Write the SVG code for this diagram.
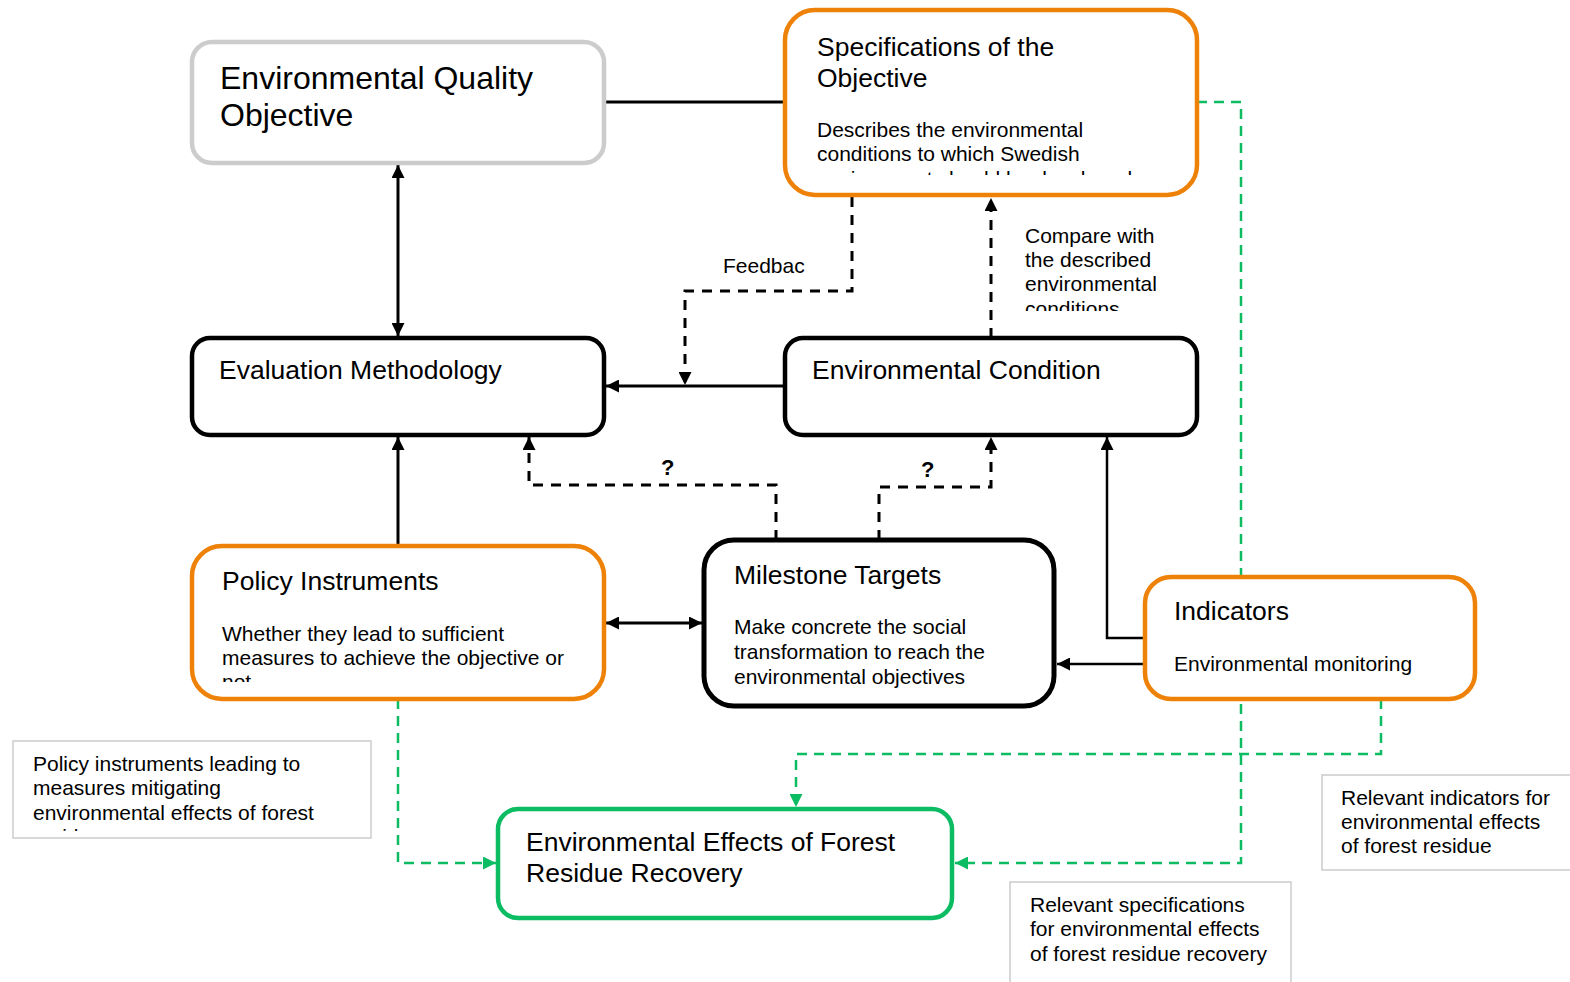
<svg xmlns="http://www.w3.org/2000/svg" width="1570" height="982" viewBox="0 0 1570 982">
<style>
text{font-family:"Liberation Sans",Arial,sans-serif;fill:#000}
.t32{font-size:32px}
.t26{font-size:26.5px}
.t21{font-size:21px}
.q{font-size:22px;font-weight:bold}
.box{fill:#fff;stroke-width:4.5}
.gray{stroke:#cccccc}
.org{stroke:#ee8208}
.blk{stroke:#000}
.grn{stroke:#0cbc63}
.note{fill:#fff;stroke:#cccccc;stroke-width:1.5}
.c{fill:none;stroke:#000;stroke-width:3}
.d{fill:none;stroke:#000;stroke-width:3;stroke-dasharray:10 8}
.g{fill:none;stroke:#0cbc63;stroke-width:2.5;stroke-dasharray:10 7}
</style>
<defs>
<marker id="ab" viewBox="0 0 12 12" refX="12" refY="6" markerWidth="13" markerHeight="13" markerUnits="userSpaceOnUse" orient="auto-start-reverse"><path d="M0,0 L12,6 L0,12 z" fill="#000"/></marker>
<marker id="ag" viewBox="0 0 12 12" refX="12" refY="6" markerWidth="13" markerHeight="13" markerUnits="userSpaceOnUse" orient="auto"><path d="M0,0 L12,6 L0,12 z" fill="#0cbc63"/></marker>
<clipPath id="cSpec"><rect x="790" y="15" width="400" height="160"/></clipPath>
<clipPath id="cPol"><rect x="197" y="551" width="400" height="131"/></clipPath>
<clipPath id="cCmp"><rect x="1015" y="215" width="170" height="96"/></clipPath>
<clipPath id="cN1"><rect x="15" y="743" width="354" height="88"/></clipPath>
</defs>

<g id="connectors">
<path class="c" d="M604,102 H785"/>
<path class="c" d="M398,165 V336" marker-start="url(#ab)" marker-end="url(#ab)"/>
<path class="d" d="M852,197 V291 H685 V385" marker-end="url(#ab)"/>
<path class="d" d="M991,338 V198" marker-end="url(#ab)"/>
<path class="c" d="M785,386 H606" marker-end="url(#ab)"/>
<path class="c" d="M398,546 V437" marker-end="url(#ab)"/>
<path class="c" d="M606,623 H702" marker-start="url(#ab)" marker-end="url(#ab)"/>
<path class="d" d="M776,540 V485 H529 V437" marker-end="url(#ab)"/>
<path class="d" d="M879,540 V487 H991 V437" marker-end="url(#ab)"/>
<path class="c" d="M1145,638 H1107 V437" marker-end="url(#ab)" style="stroke-width:2.5"/>
<path class="c" d="M1145,664 H1057" marker-end="url(#ab)" style="stroke-width:2.5"/>
<path class="g" d="M1197,102 H1241 V863 H955" marker-end="url(#ag)"/>
<path class="g" d="M1381,699 V754 H796 V807" marker-end="url(#ag)"/>
<path class="g" d="M398,699 V863 H496" marker-end="url(#ag)"/>
<text class="t21" x="723" y="273">Feedbac</text>
<g clip-path="url(#cCmp)">
<text class="t21" x="1025" y="243">Compare with</text>
<text class="t21" x="1025" y="267">the described</text>
<text class="t21" x="1025" y="291">environmental</text>
<text class="t21" x="1025" y="316">conditions</text>
</g>
<text class="q" x="661" y="475">?</text>
<text class="q" x="921" y="477">?</text>
</g>

<g id="eqo">
<rect class="box gray" x="192" y="42" width="412" height="121" rx="20"/>
<text class="t32" x="220" y="89">Environmental Quality</text>
<text class="t32" x="220" y="126">Objective</text>
</g>

<g id="specs">
<rect class="box org" x="785" y="10" width="412" height="185" rx="30"/>
<text class="t26" x="817" y="56">Specifications of the</text>
<text class="t26" x="817" y="87">Objective</text>
<g clip-path="url(#cSpec)">
<text class="t21" x="817" y="137">Describes the environmental</text>
<text class="t21" x="817" y="161">conditions to which Swedish</text>
<text class="t21" x="817" y="186">environment should be developed</text>
</g>
</g>

<g id="evaluation">
<rect class="box blk" x="192" y="338" width="412" height="97" rx="18"/>
<text class="t26" x="219" y="379">Evaluation Methodology</text>
</g>

<g id="condition">
<rect class="box blk" x="785" y="338" width="412" height="97" rx="18"/>
<text class="t26" x="812" y="379">Environmental Condition</text>
</g>

<g id="policy">
<rect class="box org" x="192" y="546" width="412" height="153" rx="30"/>
<text class="t26" x="222" y="590">Policy Instruments</text>
<g clip-path="url(#cPol)">
<text class="t21" x="222" y="641">Whether they lead to sufficient</text>
<text class="t21" x="222" y="665">measures to achieve the objective or</text>
<text class="t21" x="222" y="689">not</text>
</g>
</g>

<g id="milestone">
<rect class="box blk" x="704" y="540" width="350" height="166" rx="30" style="stroke-width:5"/>
<text class="t26" x="734" y="584">Milestone Targets</text>
<text class="t21" x="734" y="634">Make concrete the social</text>
<text class="t21" x="734" y="659">transformation to reach the</text>
<text class="t21" x="734" y="684">environmental objectives</text>
</g>

<g id="indicators">
<rect class="box org" x="1145" y="577" width="330" height="122" rx="26"/>
<text class="t26" x="1174" y="620">Indicators</text>
<text class="t21" x="1174" y="671">Environmental monitoring</text>
</g>

<g id="effects">
<rect class="box grn" x="498" y="809" width="454" height="109" rx="20"/>
<text class="t26" x="526" y="851">Environmental Effects of Forest</text>
<text class="t26" x="526" y="882">Residue Recovery</text>
</g>

<g id="note-policy">
<rect class="note" x="13" y="741" width="358" height="97"/>
<g clip-path="url(#cN1)">
<text class="t21" x="33" y="771">Policy instruments leading to</text>
<text class="t21" x="33" y="795">measures mitigating</text>
<text class="t21" x="33" y="820">environmental effects of forest</text>
<text class="t21" x="33" y="844">residue</text>
</g>
</g>

<g id="note-specs">
<rect class="note" x="1010" y="882" width="281" height="104"/>
<text class="t21" x="1030" y="912">Relevant specifications</text>
<text class="t21" x="1030" y="936">for environmental effects</text>
<text class="t21" x="1030" y="961">of forest residue recovery</text>
</g>

<g id="note-indicators">
<rect class="note" x="1322" y="775" width="252" height="95"/>
<text class="t21" x="1341" y="805">Relevant indicators for</text>
<text class="t21" x="1341" y="829">environmental effects</text>
<text class="t21" x="1341" y="853">of forest residue</text>
</g>
</svg>
